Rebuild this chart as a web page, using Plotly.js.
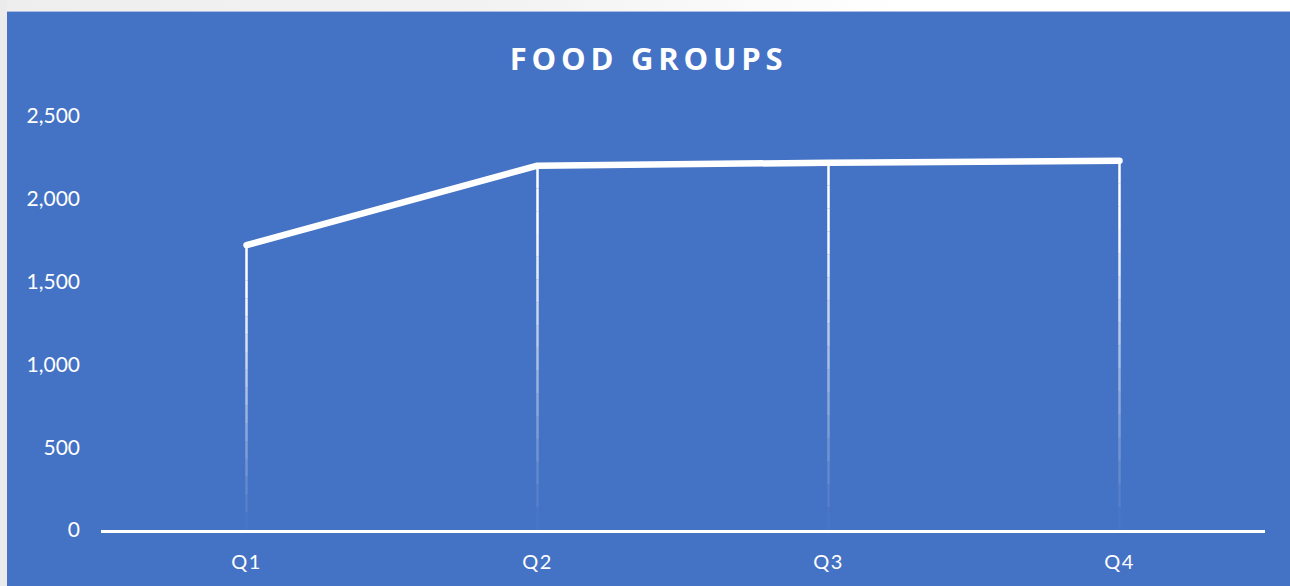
<!DOCTYPE html>
<html>
<head>
<meta charset="utf-8">
<script src="https://cdn.plot.ly/plotly-3.0.1.min.js"></script>
<style>
  html, body { margin: 0; padding: 0; width: 1290px; height: 586px; overflow: hidden; background: #ffffff; }
  #strip { position: absolute; left: 0; top: 0; width: 7px; height: 586px; background: #ebebeb; }
  #topband { position: absolute; left: 0; top: 0; width: 1290px; height: 11px; background: linear-gradient(to right, #eeeeee 0%, #f3f3f3 40%, #ffffff 70%); }
  #chart { position: absolute; left: 7px; top: 11px; width: 1283px; height: 575px; border-top: 1px solid #a9bde3; box-sizing: border-box; }
  .gtitle { letter-spacing: 4.8px; }
  .xtick text { letter-spacing: 1.5px; }
  .scatterlayer .trace:last-child .js-line { stroke-linecap: round !important; stroke-linejoin: round !important; }
</style>
</head>
<body>
<div id="topband"></div>
<div id="strip"></div>
<div id="chart"></div>
<script>
const categories = ["Q1", "Q2", "Q3", "Q4"];
const values = [1720, 2200, 2218, 2230];
const yTickValues = [0, 500, 1000, 1500, 2000, 2500];
const yTickLabels = ["0", "500", "1,000", "1,500", "2,000", "2,500"];

const traces = [];
// drop lines with a fading gradient (white at the point, fading toward the axis)
const nSeg = 16;
for (let k = 0; k < nSeg; k++) {
  const xs = [], ys = [];
  categories.forEach((c, i) => {
    xs.push(c, c, null);
    ys.push(values[i] * k / nSeg, values[i] * (k + 1) / nSeg, null);
  });
  const f = (k + 0.5) / nSeg;
  traces.push({
    type: "scatter", mode: "lines", x: xs, y: ys,
    line: { color: "#ffffff", width: 2.5 },
    opacity: Math.min(1, Math.pow(f, 1.1) * 1.25),
    hoverinfo: "skip", showlegend: false, connectgaps: false
  });
}
// main line
traces.push({
  type: "scatter", mode: "lines", x: categories, y: values,
  line: { color: "#ffffff", width: 6.5 },
  showlegend: false, hoverinfo: "x+y"
});

const layout = {
  width: 1283, height: 575,
  paper_bgcolor: "#4472c4", plot_bgcolor: "#4472c4",
  margin: { l: 94, r: 25, t: 104, b: 57 },
  title: {
    text: "FOOD GROUPS",
    font: { family: "Open Sans, sans-serif", size: 31, color: "#ffffff", weight: 700 },
    x: 0.5, xanchor: "center", xref: "container",
    y: 1 - 47 / 575, yanchor: "middle", yref: "container"
  },
  xaxis: {
    type: "category", categoryarray: categories, range: [-0.5, 3.5],
    showgrid: false, zeroline: false,
    showline: true, linecolor: "#ffffff", linewidth: 3,
    ticks: "", ticklabelstandoff: 12,
    tickfont: { family: "Lato, sans-serif", size: 20, color: "#ffffff" }
  },
  yaxis: {
    range: [0, 2500], tickvals: yTickValues, ticktext: yTickLabels,
    showgrid: false, zeroline: false, showline: false,
    ticks: "", ticklabelstandoff: 20,
    tickfont: { family: "Lato, sans-serif", size: 21, color: "#ffffff" }
  },
  showlegend: false
};

Plotly.newPlot("chart", traces, layout, { displayModeBar: false, staticPlot: true });
</script>
</body>
</html>
